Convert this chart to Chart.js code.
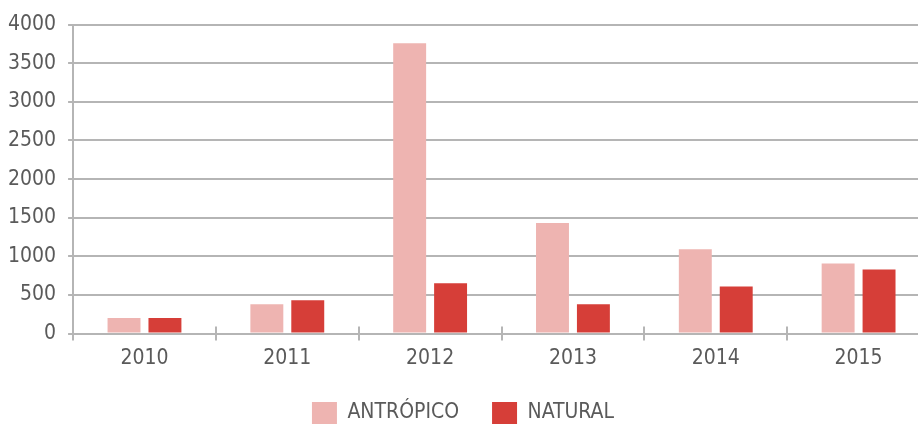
<!DOCTYPE html>
<html>
<head>
<meta charset="utf-8">
<script src="https://cdn.jsdelivr.net/npm/chart.js@4"></script>
<style>
  html, body { margin: 0; padding: 0; background: #fff; overflow: hidden; }
</style>
</head>
<body>
<canvas id="chart-bars" width="932" height="425"></canvas>
<script>
  var years = ['2010', '2011', '2012', '2013', '2014', '2015'];
  var antropico = [200, 380, 3760, 1430, 1090, 905];
  var natural = [200, 430, 650, 380, 610, 830];
  var yTicks = [0, 500, 1000, 1500, 2000, 2500, 3000, 3500, 4000];

  var fontFamily = "'DejaVu Sans Condensed', sans-serif";
  var gridGray = '#b5b5b5';
  var textGray = '#5a5a5a';

  // tick marks on the x axis also poke up above the axis line
  var upTicks = {
    id: 'upTicks',
    afterDatasetsDraw: function(chart) {
      var x = chart.scales.x, ctx = chart.ctx;
      var bottom = chart.chartArea.bottom;
      ctx.save();
      ctx.strokeStyle = gridGray;
      ctx.lineWidth = 2;
      for (var i = 0; i <= years.length; i++) {
        var px = Math.round(x.getPixelForValue(i - 0.5));
        ctx.beginPath();
        ctx.moveTo(px, bottom - 7);
        ctx.lineTo(px, bottom);
        ctx.stroke();
      }
      ctx.restore();
    }
  };

  var data = {
    labels: years,
    datasets: [
      { label: 'ANTRÓPICO', data: antropico, backgroundColor: '#eeb4b1' },
      { label: 'NATURAL', data: natural, backgroundColor: '#d63e38' }
    ]
  };

  var options = {
    responsive: false,
    animation: false,
    devicePixelRatio: 1,
    categoryPercentage: 0.573,
    barPercentage: 0.805,
    layout: { padding: { left: -4, right: 2, top: 9, bottom: -9 } },
    plugins: {
      tooltip: { enabled: false },
      legend: {
        position: 'bottom',
        labels: {
          boxWidth: 25,
          boxHeight: 22,
          padding: 33,
          color: textGray,
          font: { family: fontFamily, size: 21 }
        }
      }
    },
    scales: {
      x: {
        afterFit: function(axis) { axis.height = 35.5; },
        grid: { offset: true, drawOnChartArea: false, drawTicks: true, tickLength: 7, color: gridGray, lineWidth: 2 },
        border: { color: gridGray, width: 2 },
        ticks: { color: textGray, padding: 5, font: { family: fontFamily, size: 21 } }
      },
      y: {
        min: 0,
        max: 4000,
        afterBuildTicks: function(axis) {
          axis.ticks = yTicks.map(function(v) { return { value: v }; });
        },
        grid: { color: gridGray, lineWidth: 2, tickLength: 5 },
        border: { color: gridGray, width: 2 },
        ticks: {
          color: textGray,
          padding: 12,
          font: { family: fontFamily, size: 21 },
          callback: function(value) { return String(value); }
        }
      }
    }
  };

  new Chart('chart-bars', { type: 'bar', data: data, options: options, plugins: [upTicks] });
</script>
</body>
</html>
